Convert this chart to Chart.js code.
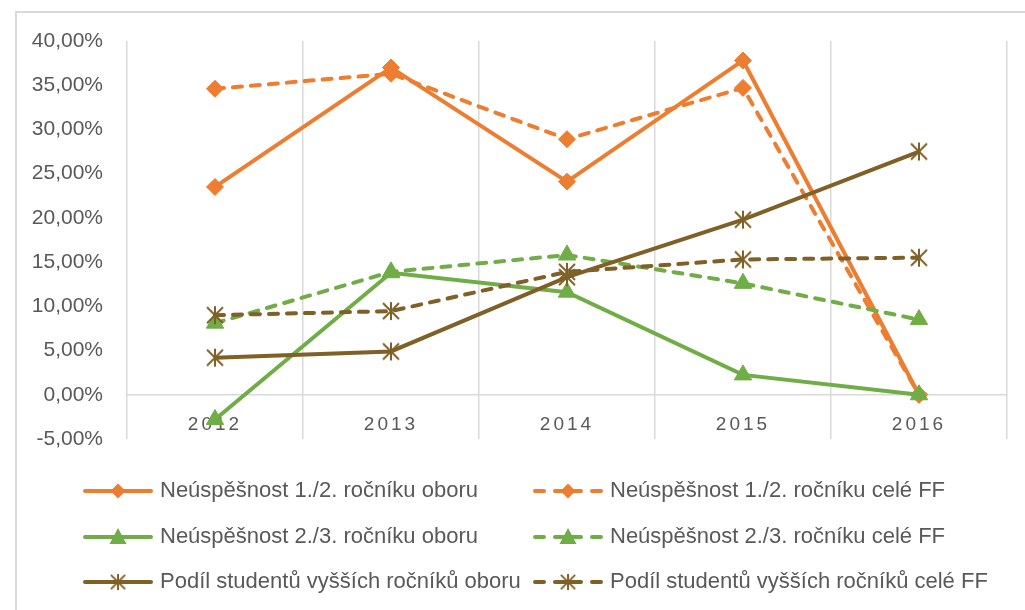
<!DOCTYPE html>
<html><head><meta charset="utf-8">
<script src="https://cdn.jsdelivr.net/npm/chart.js@4.4.1/dist/chart.umd.min.js"></script>
<style>html,body{margin:0;padding:0;background:#fff;} #wrap{position:relative;width:1025px;height:610px;}</style>
</head><body><div id="wrap"><canvas id="c" width="1025" height="610"></canvas></div>
<script>
// ---- data (percent) ----
const categories = ['2012', '2013', '2014', '2015', '2016'];
const seriesNames = [
  'Neúspěšnost 1./2. ročníku oboru',
  'Neúspěšnost 1./2. ročníku celé FF',
  'Neúspěšnost 2./3. ročníku oboru',
  'Neúspěšnost 2./3. ročníku celé FF',
  'Podíl studentů vyšších ročníků oboru',
  'Podíl studentů vyšších ročníků celé FF'
];
const obor12 = [23.5, 37.0, 24.1, 37.8, 0.0];
const ff12 = [34.6, 36.3, 28.9, 34.7, 0.0];
const obor23 = [-2.8, 13.8, 11.6, 2.25, 0.0];
const ff23 = [8.1, 13.9, 15.8, 12.6, 8.5];
const oborVyssi = [4.2, 4.9, 13.3, 19.8, 27.5];
const ffVyssi = [9.0, 9.46, 13.9, 15.3, 15.5];
const yMin = -5, yMax = 40, yStep = 5;

const ORANGE = '#ED7D31', GREEN = '#70AD47', BROWN = '#7F6027';
const FONT = '"Liberation Sans", Arial, sans-serif';
const TEXT = '#595959';

function makeStar(color) {
  const c = document.createElement('canvas');
  c.width = 20; c.height = 20;
  const g = c.getContext('2d');
  g.strokeStyle = color; g.lineWidth = 2;
  g.beginPath();
  g.moveTo(2, 2); g.lineTo(18, 18);
  g.moveTo(18, 2); g.lineTo(2, 18);
  g.moveTo(10, 1); g.lineTo(10, 19);
  g.stroke();
  return c;
}
const starImg = makeStar(BROWN);

const values = [obor12, ff12, obor23, ff23, oborVyssi, ffVyssi];
const colors = [ORANGE, ORANGE, GREEN, GREEN, BROWN, BROWN];
const styles = ['rectRot', 'rectRot', 'triangle', 'triangle', starImg, starImg];
const radii = [8.5, 8.5, 10, 10, 10, 10];

const datasets = values.map((v, i) => ({
  label: seriesNames[i],
  data: v,
  borderColor: colors[i],
  backgroundColor: colors[i],
  borderWidth: 4,
  borderDash: i % 2 === 1 ? [9, 9] : [],
  borderCapStyle: i % 2 === 1 ? 'round' : 'butt',
  tension: 0,
  pointStyle: styles[i],
  pointRadius: radii[i],
  pointHoverRadius: radii[i],
  pointBorderWidth: 1,
  pointBorderColor: colors[i],
  pointBackgroundColor: colors[i],
  order: 6 - i
}));

const framePlugin = {
  id: 'frame',
  beforeDraw(chart) {
    const ctx = chart.ctx;
    ctx.save();
    ctx.strokeStyle = '#d9d9d9'; ctx.lineWidth = 2;
    ctx.beginPath();
    ctx.moveTo(16, 610); ctx.lineTo(16, 12); ctx.lineTo(1025, 12);
    ctx.stroke();
    ctx.restore();
    ctx.letterSpacing = '3px';
  },
  beforeDatasetsDraw(chart) {
    chart.ctx.letterSpacing = '0px';
  }
};

function drawMarker(ctx, style, x, y, color) {
  ctx.fillStyle = color;
  if (style === 'rectRot') {
    const r = 7.5;
    ctx.beginPath();
    ctx.moveTo(x, y - r); ctx.lineTo(x + r, y); ctx.lineTo(x, y + r); ctx.lineTo(x - r, y);
    ctx.closePath(); ctx.fill();
  } else if (style === 'triangle') {
    ctx.beginPath();
    ctx.moveTo(x, y - 9); ctx.lineTo(x + 8.5, y + 7); ctx.lineTo(x - 8.5, y + 7);
    ctx.closePath(); ctx.fill();
  } else {
    ctx.drawImage(style, x - 9, y - 9, 18, 18);
  }
}

const legendPlugin = {
  id: 'customLegend',
  afterDraw(chart) {
    const ctx = chart.ctx;
    const cols = [83, 533];
    const rows = [491, 537, 582];
    ctx.save();
    ctx.letterSpacing = '0px';
    chart.data.datasets.forEach((ds, i) => {
      const x = cols[i % 2], y = rows[Math.floor(i / 2)];
      ctx.strokeStyle = ds.borderColor;
      ctx.lineWidth = 4;
      ctx.lineCap = 'round';
      ctx.beginPath();
      if (i % 2 === 0) {
        ctx.moveTo(x + 2, y); ctx.lineTo(x + 68, y);
      } else {
        ctx.moveTo(x + 2, y); ctx.lineTo(x + 11, y);
        ctx.moveTo(x + 22, y); ctx.lineTo(x + 48, y);
        ctx.moveTo(x + 59, y); ctx.lineTo(x + 68, y);
      }
      ctx.stroke();
      drawMarker(ctx, ds.pointStyle, x + 35, y, ds.borderColor);
      ctx.fillStyle = TEXT;
      ctx.font = '22px ' + FONT;
      ctx.textAlign = 'left';
      ctx.textBaseline = 'middle';
      ctx.fillText(ds.label, x + 77, y);
    });
    ctx.restore();
  }
};

new Chart(document.getElementById('c'), {
  type: 'line',
  data: { labels: categories, datasets },
  plugins: [framePlugin, legendPlugin],
  options: {
    responsive: false,
    animation: false,
    events: [],
    devicePixelRatio: 1,
    layout: { padding: { top: 41, right: 18, bottom: 171, left: 0 } },
    plugins: { legend: { display: false }, tooltip: { enabled: false } },
    scales: {
      x: {
        type: 'category',
        position: { y: 0 },
        offset: true,
        grid: { display: true, offset: true, color: '#d9d9d9', lineWidth: 1.5, drawTicks: false },
        border: { display: true, color: '#d9d9d9', width: 1.5 },
        ticks: { color: TEXT, font: { family: FONT, size: 19 }, padding: 19, maxRotation: 0 }
      },
      y: {
        min: yMin, max: yMax,
        afterFit(scale) { scale.width = 127; },
        grid: { display: false, drawTicks: false },
        border: { display: false },
        ticks: {
          z: 1,
          stepSize: yStep,
          color: TEXT,
          font: { family: FONT, size: 21 },
          padding: 24,
          callback: (v) => v.toFixed(2).replace('.', ',') + '%'
        }
      }
    }
  }
});
</script>
</body></html>
